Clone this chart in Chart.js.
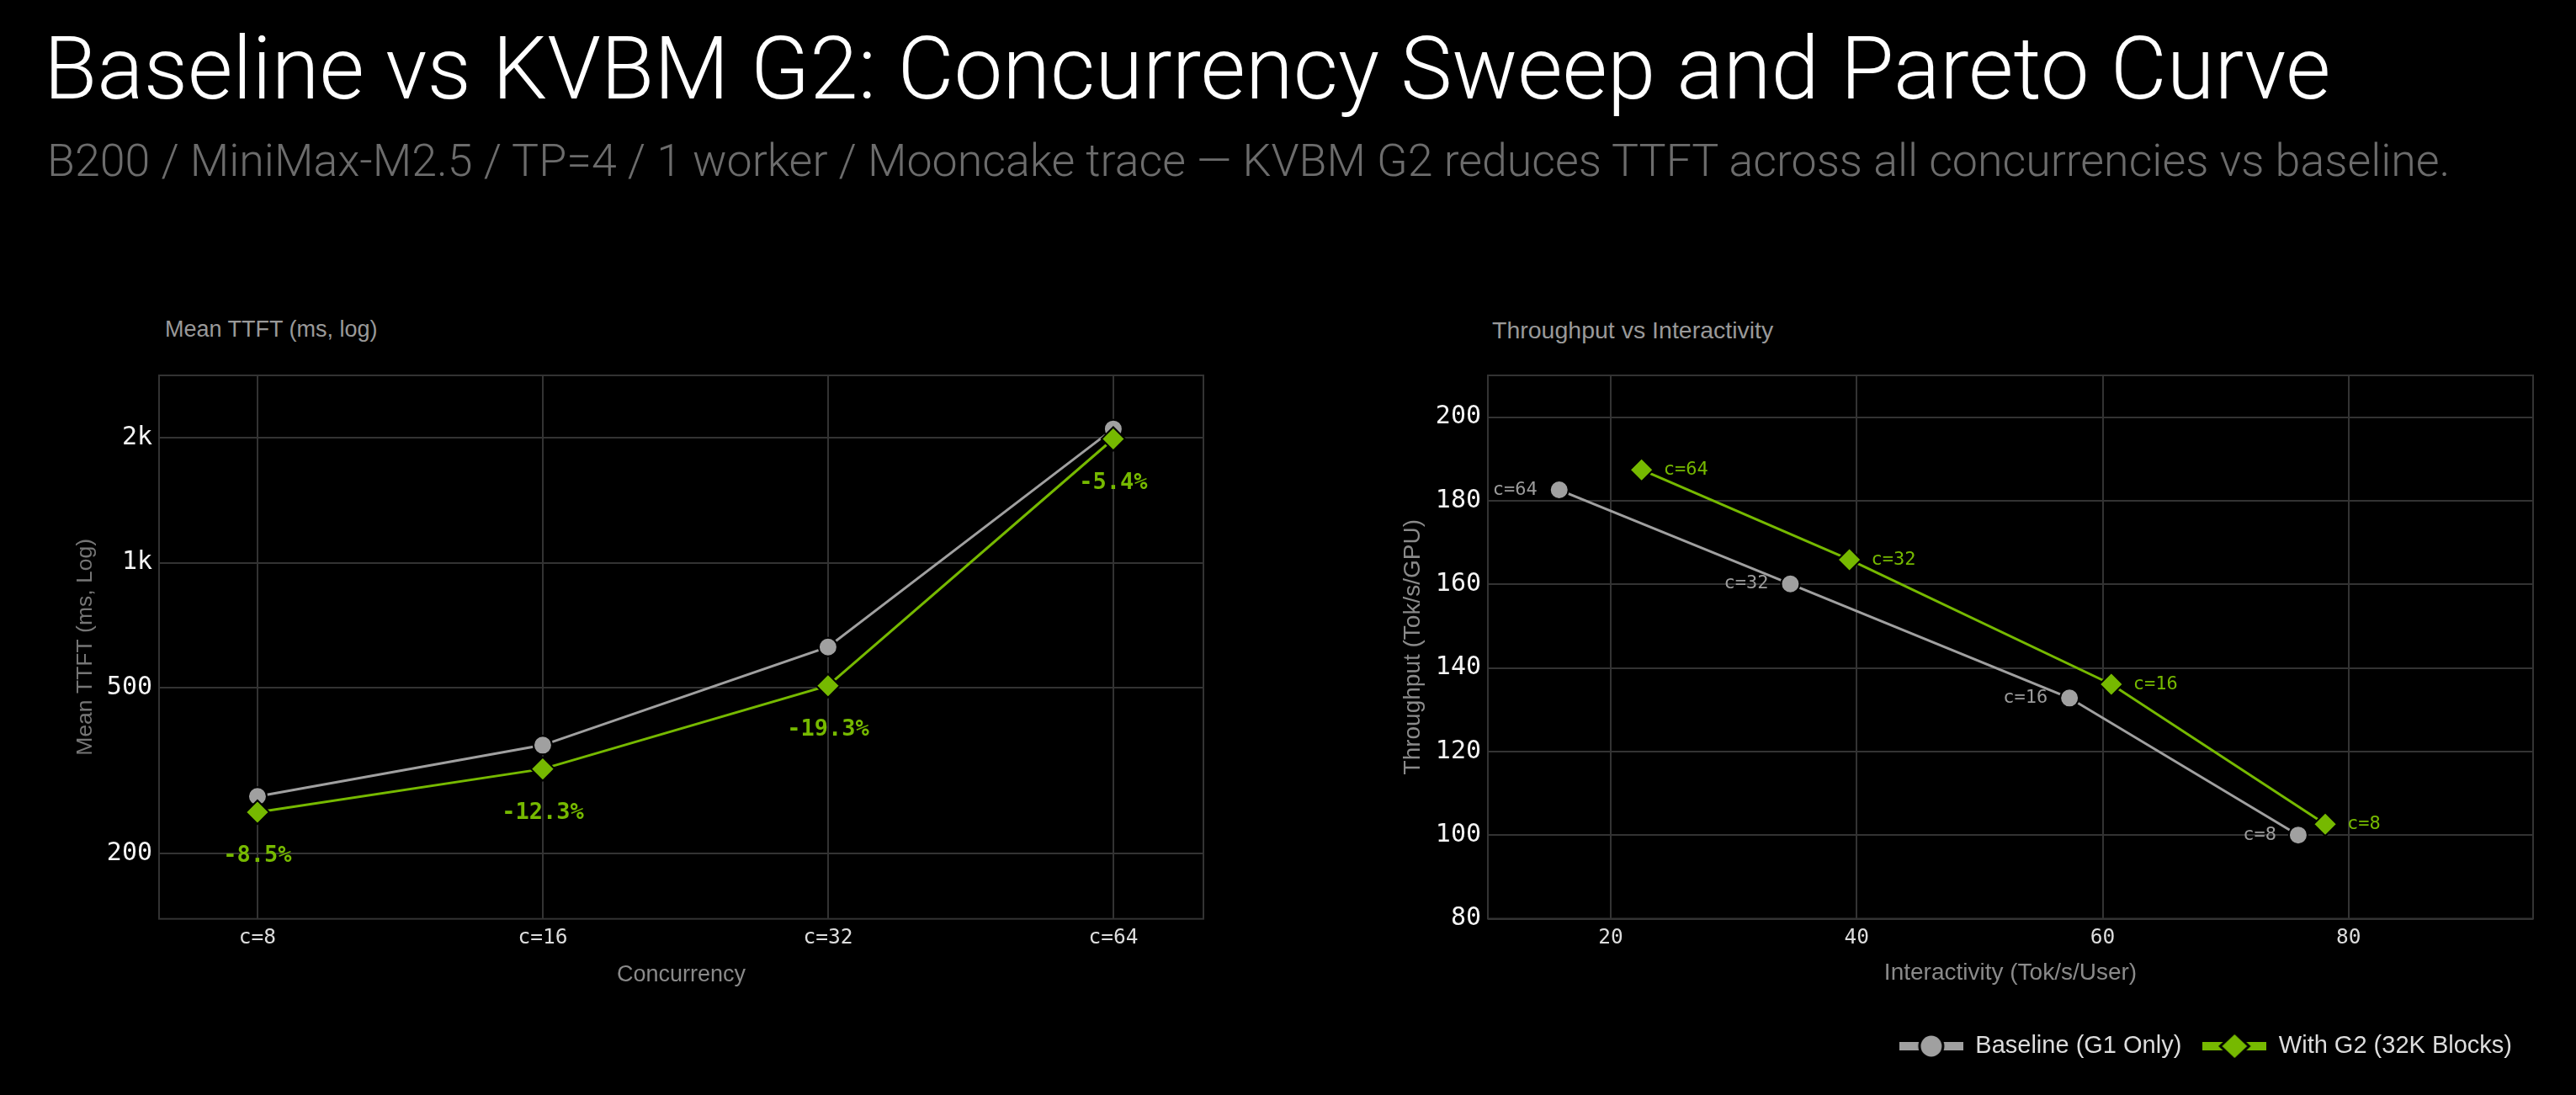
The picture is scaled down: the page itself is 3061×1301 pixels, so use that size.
<!DOCTYPE html>
<html>
<head>
<meta charset="utf-8">
<script src="https://cdn.jsdelivr.net/npm/chart.js@4.4.1/dist/chart.umd.min.js"></script>
<style>
  html, body { margin: 0; padding: 0; background: #000; }
  body { width: 3061px; height: 1301px; position: relative; overflow: hidden; font-family: 'Liberation Sans', Arial, sans-serif; }
  .title { position: absolute; left: 52px; top: 30px; color: #fff; font-family: Roboto, 'Liberation Sans', sans-serif; font-weight: 300; font-size: 104px; line-height: 1; white-space: nowrap; }
  .subtitle { position: absolute; left: 56px; top: 164px; color: #6c6c6c; font-family: Roboto, 'Liberation Sans', sans-serif; font-weight: 300; font-size: 54px; line-height: 1; white-space: nowrap; }
  .panelTitle { position: absolute; top: 378px; color: #999; font-size: 27px; line-height: 1; white-space: nowrap; }
  canvas { position: absolute; }
</style>
</head>
<body>
<div class="title" id="title">Baseline vs KVBM G2: Concurrency Sweep and Pareto Curve</div>
<div class="subtitle" id="subtitle">B200 / MiniMax-M2.5 / TP=4 / 1 worker / Mooncake trace — KVBM G2 reduces TTFT across all concurrencies vs baseline.</div>
<div class="panelTitle" style="left:196px;">Mean TTFT (ms, log)</div>
<div class="panelTitle" style="left:1773px; top:378px; font-size: 28.5px;">Throughput vs Interactivity</div>

<canvas id="ttft" width="1480" height="800" style="left:0; top:420px; width:1480px; height:800px;"></canvas>
<canvas id="pareto" width="1501" height="881" style="left:1560px; top:420px; width:1501px; height:881px;"></canvas>

<script>
// --- data ---
const concurrency = ['c=8', 'c=16', 'c=32', 'c=64'];
const ttftBaseline = [274, 364, 627, 2100];
const ttftG2 = [251, 319, 506, 1987];
const ttftDelta = ['-8.5%', '-12.3%', '-19.3%', '-5.4%'];
const ttftTicks = [200, 500, 1000, 2000];
const ttftTickLabels = ['200', '500', '1k', '2k'];

// pareto points, ordered c=8, c=16, c=32, c=64
const interBaseline = [75.9, 57.3, 34.6, 15.8];
const tputBaseline = [100.0, 132.8, 160.1, 182.6];
const interG2 = [78.1, 60.7, 39.4, 22.5];
const tputG2 = [102.6, 136.1, 165.9, 187.4];
const interTicks = [20, 40, 60, 80];
const tputTicks = [80, 100, 120, 140, 160, 180, 200];

const GRAY = '#a0a0a0';
const GREEN = '#76b900';
const GRID = '#333333';
const MONO = "'DejaVu Sans Mono', 'Liberation Mono', monospace";
const SANS = "'Liberation Sans', Arial, sans-serif";

// fit the page title widths to the reference
function fitWidth(id, target) {
  const el = document.getElementById(id);
  const w = el.getBoundingClientRect().width;
  const fs = parseFloat(getComputedStyle(el).fontSize);
  el.style.fontSize = (fs * target / w) + 'px';
}
fitWidth('title', 2718);
fitWidth('subtitle', 2856);

// box around the plot area
const frame = {
  id: 'frame',
  beforeDatasetsDraw(chart) {
    const { ctx, chartArea: a } = chart;
    ctx.save();
    ctx.strokeStyle = GRID;
    ctx.lineWidth = 2;
    ctx.strokeRect(a.left, a.top, a.right - a.left, a.bottom - a.top);
    ctx.restore();
  }
};

// text next to each point
const pointLabels = {
  id: 'pointLabels',
  afterDatasetsDraw(chart) {
    const ctx = chart.ctx;
    chart.data.datasets.forEach((ds, i) => {
      if (!ds.pointLabels) return;
      const meta = chart.getDatasetMeta(i);
      ctx.save();
      ctx.font = ds.pointLabelFont;
      ctx.fillStyle = ds.pointLabelColor;
      ctx.textAlign = ds.pointLabelAlign;
      ctx.textBaseline = 'middle';
      meta.data.forEach((pt, j) => {
        ctx.fillText(ds.pointLabels[j], pt.x + ds.pointLabelDx, pt.y + ds.pointLabelDy);
      });
      ctx.restore();
    });
  }
};

// legend swatch: thick line with the marker in the middle
function legendSymbol(color, style) {
  const c = document.createElement('canvas');
  c.width = 76; c.height = 34;
  const g = c.getContext('2d');
  g.fillStyle = color;
  g.fillRect(0, 12, 76, 10);
  g.lineWidth = 3;
  g.strokeStyle = '#000';
  g.beginPath();
  if (style === 'circle') {
    g.arc(38, 17, 14, 0, Math.PI * 2);
  } else {
    g.moveTo(38, 1); g.lineTo(55, 17); g.lineTo(38, 33); g.lineTo(21, 17); g.closePath();
  }
  g.fill();
  g.stroke();
  return c;
}

function tickFont(size) { return { family: MONO, size: size }; }

// ---------- left: TTFT by concurrency ----------
new Chart(document.getElementById('ttft'), {
  type: 'line',
  data: {
    datasets: [
      {
        label: 'Baseline (G1 Only)',
        data: ttftBaseline.map((v, i) => ({ x: i, y: v })),
        borderColor: GRAY, backgroundColor: GRAY, borderWidth: 3,
        pointStyle: 'circle', pointRadius: 11, pointBackgroundColor: GRAY,
        pointBorderColor: '#000', pointBorderWidth: 2, order: 2, clip: false
      },
      {
        label: 'With G2 (32K Blocks)',
        data: ttftG2.map((v, i) => ({ x: i, y: v })),
        borderColor: GREEN, backgroundColor: GREEN, borderWidth: 3,
        pointStyle: 'rectRot', pointRadius: 14, pointBackgroundColor: GREEN,
        pointBorderColor: '#000', pointBorderWidth: 2, order: 1, clip: false,
        pointLabels: ttftDelta, pointLabelFont: 'bold 27px ' + MONO, pointLabelColor: GREEN,
        pointLabelAlign: 'center', pointLabelDx: 0, pointLabelDy: 52
      }
    ]
  },
  options: {
    responsive: false,
    animation: false,
    layout: { padding: { top: 18, right: 50, bottom: 0, left: 0 } },
    plugins: { legend: { display: false }, tooltip: { enabled: false } },
    scales: {
      x: {
        type: 'linear', min: -0.345, max: 3.316,
        afterBuildTicks: s => { s.ticks = concurrency.map((_, i) => ({ value: i })); },
        afterFit: s => { s.height = 128.3; },
        ticks: { callback: (v, i) => concurrency[i], font: tickFont(24.5), color: '#dddddd', padding: 8 },
        grid: { color: GRID, lineWidth: 2, drawTicks: false },
        border: { display: false },
        title: { display: true, text: 'Concurrency', color: '#8a8a8a',
                 font: { family: SANS, size: 27 }, padding: { top: 0, bottom: 45 } }
      },
      y: {
        type: 'logarithmic', min: 139, max: 2826,
        afterBuildTicks: s => { s.ticks = ttftTicks.map(v => ({ value: v })); },
        afterFit: s => { s.width = 189; },
        ticks: { callback: (v, i) => ttftTickLabels[i], font: tickFont(30), color: '#f4f4f4', padding: 8 },
        grid: { color: GRID, lineWidth: 2, drawTicks: false },
        border: { display: false },
        title: { display: true, text: 'Mean TTFT (ms, Log)', color: '#767676',
                 font: { family: SANS, size: 26.5 }, padding: { top: 86, bottom: 0 } }
      }
    }
  },
  plugins: [frame, pointLabels]
});

// ---------- right: throughput vs interactivity ----------
new Chart(document.getElementById('pareto'), {
  type: 'line',
  data: {
    datasets: [
      {
        label: 'Baseline (G1 Only)',
        data: interBaseline.map((x, i) => ({ x: x, y: tputBaseline[i] })),
        borderColor: GRAY, backgroundColor: GRAY, borderWidth: 3,
        pointStyle: 'circle', pointRadius: 11, pointBackgroundColor: GRAY,
        pointBorderColor: '#000', pointBorderWidth: 2, order: 2, clip: false,
        pointLabels: concurrency, pointLabelFont: '22px ' + MONO, pointLabelColor: '#9c9c9c',
        pointLabelAlign: 'right', pointLabelDx: -26, pointLabelDy: 0
      },
      {
        label: 'With G2 (32K Blocks)',
        data: interG2.map((x, i) => ({ x: x, y: tputG2[i] })),
        borderColor: GREEN, backgroundColor: GREEN, borderWidth: 3,
        pointStyle: 'rectRot', pointRadius: 14, pointBackgroundColor: GREEN,
        pointBorderColor: '#000', pointBorderWidth: 2, order: 1, clip: false,
        pointLabels: concurrency, pointLabelFont: '22px ' + MONO, pointLabelColor: GREEN,
        pointLabelAlign: 'left', pointLabelDx: 26, pointLabelDy: 0
      }
    ]
  },
  options: {
    responsive: false,
    animation: false,
    layout: { padding: { top: 17, right: 51, bottom: 33.5, left: 0 } },
    plugins: {
      tooltip: { enabled: false },
      legend: {
        position: 'bottom', align: 'end',
        labels: {
          usePointStyle: true, pointStyleWidth: 76, padding: 25,
          color: '#dddddd', font: { family: SANS, size: 29 },
          generateLabels: chart => chart.data.datasets.map((ds, i) => ({
            text: ds.label, fontColor: '#dddddd', datasetIndex: i, hidden: false,
            pointStyle: legendSymbol(ds.borderColor, ds.pointStyle),
            fillStyle: ds.borderColor, strokeStyle: ds.borderColor, lineWidth: 0
          }))
        }
      }
    },
    scales: {
      x: {
        type: 'linear', min: 10, max: 95,
        afterBuildTicks: s => { s.ticks = interTicks.map(v => ({ value: v })); },
        afterFit: s => { s.height = 112; },
        ticks: { font: tickFont(24.5), color: '#dddddd', padding: 8 },
        grid: { color: GRID, lineWidth: 2, drawTicks: false },
        border: { display: false },
        title: { display: true, text: 'Interactivity (Tok/s/User)', color: '#8a8a8a',
                 font: { family: SANS, size: 28 }, padding: { top: 0, bottom: 30 } }
      },
      y: {
        type: 'linear', min: 80, max: 210,
        afterBuildTicks: s => { s.ticks = tputTicks.map(v => ({ value: v })); },
        afterFit: s => { s.width = 208; },
        ticks: { font: tickFont(30), color: '#f4f4f4', padding: 8 },
        grid: { color: GRID, lineWidth: 2, drawTicks: false },
        border: { display: false },
        title: { display: true, text: 'Throughput (Tok/s/GPU)', color: '#8a8a8a',
                 font: { family: SANS, size: 28 }, padding: { top: 102, bottom: 0 } }
      }
    }
  },
  plugins: [frame, pointLabels]
});
</script>
</body>
</html>
